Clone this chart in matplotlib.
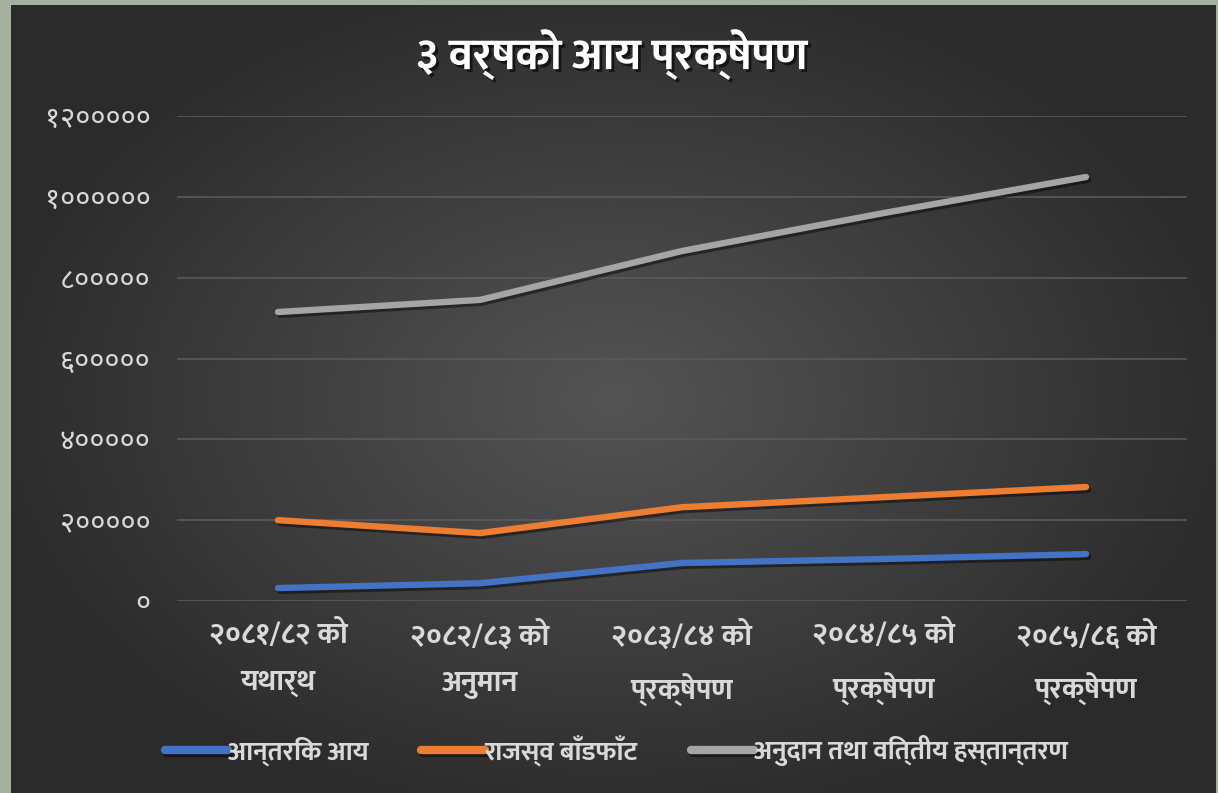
"""Three-year revenue projection line chart (Nepali labels)."""

import matplotlib

matplotlib.use("Agg")
import matplotlib.pyplot as plt
import matplotlib.patheffects as pe
import numpy as np

plt.rcParams["font.family"] = ["Noto Sans Devanagari", "Anek Devanagari", "Mukta", "DejaVu Sans"]
BOLD_FAMILY = ["Ek Mukta", "Mukta", "Noto Sans Devanagari", "DejaVu Sans"]

categories = [
    "२०८१/८२ को\nयथार्थ",
    "२०८२/८३ को\nअनुमान",
    "२०८३/८४ को\nप्रक्षेपण",
    "२०८४/८५ को\nप्रक्षेपण",
    "२०८५/८६ को\nप्रक्षेपण",
]
internal_revenue = [32000, 44000, 94000, 104000, 116000]
revenue_sharing = [200000, 168000, 232000, 257000, 282000]
grants_transfer = [715000, 745000, 866000, 960000, 1049000]

series_names = ["आन्तरिक आय", "राजस्व बाँडफाँट", "अनुदान तथा वित्तीय हस्तान्तरण"]
series_colors = ["#4472C4", "#ED7D31", "#A5A5A5"]

yticks = [0, 200000, 400000, 600000, 800000, 1000000, 1200000]
DEV_DIGITS = str.maketrans("0123456789", "०१२३४५६७८९")
ytick_labels = [str(v).translate(DEV_DIGITS) for v in yticks]

W, H = 1218, 793
fig = plt.figure(figsize=(W / 100, H / 100), dpi=100, facecolor="#a7b19f")

# dark radial-gradient chart background, inset inside the light frame
bg = fig.add_axes([11 / W, 0, (1216 - 11) / W, (H - 5) / H], zorder=0)
yy, xx = np.mgrid[-1:1:400j, -1:1:600j]
r = np.sqrt((xx / 1.05) ** 2 + (yy / 1.1) ** 2)
shade = np.clip(0.33 - 0.16 * r, 0.17, 0.33)
bg.imshow(np.dstack([shade, shade, shade]), aspect="auto", extent=[0, 1, 0, 1])
bg.set_axis_off()

ax = fig.add_axes([177 / W, 1 - 601 / H, (1187 - 177) / W, (601 - 116) / H], zorder=1)
ax.patch.set_alpha(0)

x = np.arange(len(categories))
shadow = [pe.SimpleLineShadow(offset=(1.5, -2), shadow_color="black", alpha=0.45), pe.Normal()]
for vals, name, color in zip([internal_revenue, revenue_sharing, grants_transfer], series_names, series_colors):
    ax.plot(x, vals, color=color, lw=4.6, solid_capstyle="round", solid_joinstyle="round",
            label=name, path_effects=shadow)

ax.set_xlim(-0.5, len(categories) - 0.5)
ax.set_ylim(0, 1200000)
ax.set_yticks(yticks)
ax.set_yticklabels(ytick_labels)
ax.set_xticks(x)
ax.set_xticklabels(categories, linespacing=1.85)
ax.tick_params(axis="y", length=0, pad=19, labelsize=21, labelcolor="#d9d9d9")
ax.tick_params(axis="x", length=0, pad=14, labelsize=21, labelcolor="#d9d9d9")
for lbl in ax.get_xticklabels():
    lbl.set_family(BOLD_FAMILY)
    lbl.set_fontweight("bold")
ax.grid(axis="y", color="#5a5a5a", lw=1.2)
ax.set_axisbelow(True)
for s in ax.spines.values():
    s.set_visible(False)

fig.text(0.503, 1 - 55 / H, "३ वर्षको आय प्रक्षेपण", ha="center", va="center",
         fontsize=32, fontweight="bold", color="white", family=BOLD_FAMILY,
         path_effects=[pe.withSimplePatchShadow(offset=(2, -2), shadow_rgbFace="black", alpha=0.6)])

leg = fig.legend(loc="center", bbox_to_anchor=(0.506, 1 - 750 / H), ncol=3, frameon=False,
                 prop={"family": BOLD_FAMILY, "weight": "bold", "size": 19},
                 handlelength=2.4, handletextpad=0.0, columnspacing=2.0)
for t in leg.get_texts():
    t.set_color("#d9d9d9")
for h in leg.legend_handles:
    h.set_linewidth(6)

fig.savefig("out.png", dpi=100, facecolor=fig.get_facecolor())
